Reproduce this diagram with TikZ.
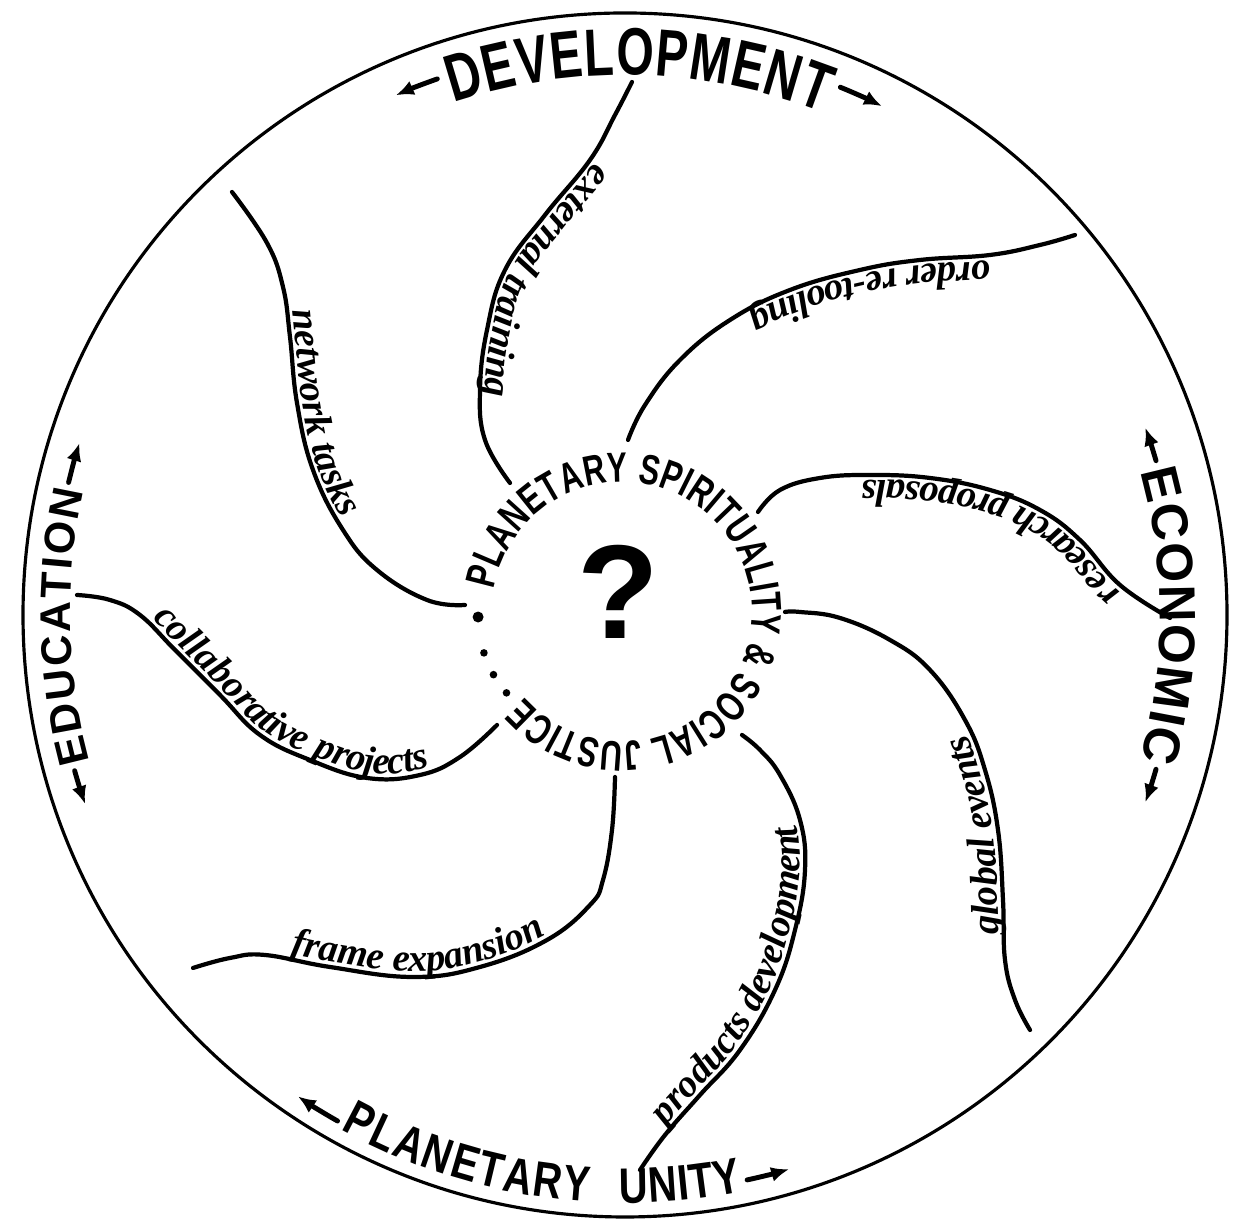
\documentclass[tikz,border=0pt]{standalone}
\usepackage{fontspec}
\usepackage{tikz}
\usetikzlibrary{calc,arrows.meta,decorations.text}
\newfontfamily\capsfont{Liberation Sans Bold}
\newfontfamily\narrowcaps[FakeStretch=0.72]{Liberation Sans Bold}
\newfontfamily\midcaps[FakeStretch=0.8]{Liberation Sans Bold}
\newfontfamily\scriptface{Liberation Serif Bold Italic}
\newcommand\armfont{\scriptface\fontsize{11}{11}\selectfont}
\tikzset{
  rimline/.style={line width=0.9pt},
  arm/.style={line width=1.2pt, line cap=round},
  rimarrow/.style={line width=1.4pt, line cap=round, -{Latex[length=1.8mm, width=1.5mm]}},
  armlabel/.style 2 args={postaction={decorate, decoration={text along path, text={|\armfont|#2}, text align={left indent=#1}, raise=1.5pt}}},
  rimlabel/.style 2 args={decorate, decoration={text along path, text={|#1|#2}, text align={fit to path}}}
}

\begin{document}
\begin{tikzpicture}[x=0.01cm, y=0.01cm]
  \useasboundingbox (0,0) rectangle (1236,1231);
  \coordinate (rim) at (625,616);
  \coordinate (hub) at (622,619);
  \draw[rimline] (rim) circle[radius=602];

  \path[rimlabel={\narrowcaps\fontsize{19}{19}\selectfont}{DEVELOPMENT}] ($(rim)+(108.5:540)$) arc[start angle=108.5, end angle=68.5, radius=540];
  \draw[rimarrow] ($(rim)+(109.3:568)$) arc[start angle=109.3, end angle=113.8, radius=568];
  \draw[rimarrow] ($(rim)+(67.8:570)$) arc[start angle=67.8, end angle=63.2, radius=570];

  \path[rimlabel={\capsfont\fontsize{14.6}{14.6}\selectfont}{ECONOMIC}] ($(rim)+(15.5:535)$) arc[start angle=15.5, end angle=-15.7, radius=535];
  \draw[rimarrow] ($(rim)+(16.2:553)$) arc[start angle=16.2, end angle=19.8, radius=553];
  \draw[rimarrow] ($(rim)+(-16.2:553)$) arc[start angle=-16.2, end angle=-19.8, radius=553];

  \path[rimlabel={\capsfont\fontsize{12.2}{12.2}\selectfont}{EDUCATION}] ($(rim)+(195.3:555)$) arc[start angle=195.3, end angle=167.1, radius=555];
  \draw[rimarrow] ($(rim)+(166.6:572)$) arc[start angle=166.6, end angle=162.5, radius=572];
  \draw[rimarrow] ($(rim)+(195.8:572)$) arc[start angle=195.8, end angle=199.3, radius=572];

  \path[rimlabel={\midcaps\fontsize{14.2}{14.2}\selectfont}{PLANETARY}] ($(rim)+(241.1:588)$) arc[start angle=241.1, end angle=266.5, radius=588];
  \path[rimlabel={\midcaps\fontsize{14.2}{14.2}\selectfont}{UNITY}] ($(rim)+(269.5:588)$) arc[start angle=269.5, end angle=281.5, radius=588];
  \draw[rimarrow] ($(rim)+(240.4:582)$) arc[start angle=240.4, end angle=235.8, radius=582];
  \draw[rimarrow] ($(rim)+(282.2:578)$) arc[start angle=282.2, end angle=286.5, radius=578];

  \path[rimlabel={\narrowcaps\fontsize{12}{12}\selectfont}{PLANETARY SPIRITUALITY {\&} SOCIAL JUSTICE}] ($(hub)+(170:130)$) arc[start angle=170, end angle=-139, radius=130];
  \fill ($(hub)+(182:144)$) circle[radius=5.5];
  \fill ($(hub)+(196.5:144)$) circle[radius=3.8];
  \fill ($(hub)+(206:143)$) circle[radius=3.8];
  \fill ($(hub)+(215:141)$) circle[radius=3.8];
  \node[font=\capsfont\fontsize{38}{38}\selectfont] (query) at (618,639) {?};

  \draw[arm, armlabel={1.33cm}{network tasks}] plot[smooth, tension=0.7] coordinates {(232,1039) (267,988) (283,944) (290,894) (297,828) (313,761) (343,701) (377,661) (427,631) (465,626)};
  \draw[arm, armlabel={0.88cm}{external training}] plot[smooth, tension=0.7] coordinates {(632,1149) (615,1116) (590,1071) (545,1016) (505,961) (487,901) (480,841) (485,791) (510,748)};
  \draw[arm, armlabel={0.88cm}{order re-tooling}] plot[smooth, tension=0.7] coordinates {(1075,996) (1040,986) (990,976) (920,971) (860,961) (790,941) (730,911) (680,871) (645,826) (628,791)};
  \draw[arm, armlabel={0.55cm}{research proposals}] plot[smooth, tension=0.7] coordinates {(1170,613) (1120,646) (1080,691) (1040,721) (990,741) (930,753) (870,756) (820,753) (780,741) (758,719)};
  \draw[arm, armlabel={1.0cm}{global events}] plot[smooth, tension=0.7] coordinates {(1030,201) (1015,231) (1005,271) (1003,331) (998,401) (985,461) (965,511) (930,561) (890,591) (840,613) (800,619) (785,619)};
  \draw[arm, armlabel={0.5cm}{products development}] plot[smooth, tension=0.7] coordinates {(640,61) (665,96) (700,136) (740,181) (775,241) (795,301) (805,361) (800,411) (780,456) (760,481) (742,496)};
  \draw[arm, armlabel={0.98cm}{frame expansion}] plot[smooth, tension=0.7] coordinates {(193,263) (230,273) (265,276) (330,264) (413,254) (480,264) (547,291) (590,326) (603,351) (612,401) (615,454)};
  \draw[arm, armlabel={0.78cm}{collaborative projects}] plot[smooth, tension=0.7] coordinates {(77,636) (110,631) (140,616) (175,581) (220,536) (260,496) (310,471) (367,453) (420,456) (460,474) (497,506)};
\end{tikzpicture}
\end{document}
